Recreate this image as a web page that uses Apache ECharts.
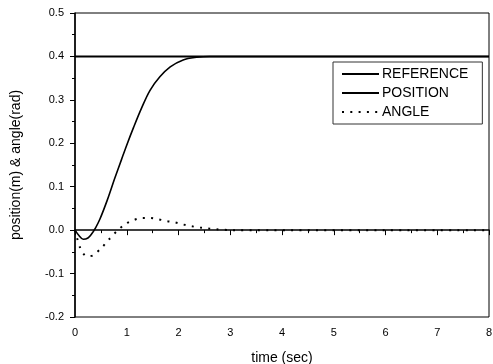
<!DOCTYPE html>
<html>
<head>
<meta charset="utf-8">
<script src="https://cdn.jsdelivr.net/npm/echarts@6/dist/echarts.min.js"></script>
<style>
  html, body { margin: 0; padding: 0; background: #fff; }
  #chart { width: 493px; height: 364px; }
</style>
</head>
<body>
<div id="chart"></div>
<script>
// values
const referenceTime = [0, 8];
const referenceValue = [0.4, 0.4];

const positionTime = [0, 0.08, 0.16, 0.25, 0.32, 0.4, 0.48, 0.62, 0.77, 0.9, 1.01, 1.13, 1.29, 1.45, 1.64, 1.84, 2.09, 2.35, 2.6, 8];
const positionValue = [0, -0.013, -0.021, -0.018, -0.009, 0.006, 0.025, 0.068, 0.12, 0.163, 0.199, 0.236, 0.282, 0.322, 0.353, 0.376, 0.392, 0.398, 0.4, 0.4];

const angleTime = [0, 0.1, 0.19, 0.27, 0.35, 0.52, 0.66, 0.81, 0.97, 1.13, 1.29, 1.45, 1.61, 1.77, 1.93, 2.09, 2.25, 2.42, 2.57, 2.74, 3.05, 8];
const angleValue = [0, -0.041, -0.058, -0.06, -0.058, -0.04, -0.021, -0.002, 0.014, 0.023, 0.028, 0.028, 0.025, 0.021, 0.018, 0.013, 0.009, 0.006, 0.004, 0.002, 0, 0];

const seriesNames = ["REFERENCE", "POSITION", "ANGLE"];

const zip = (xs, ys) => xs.map((x, i) => [x, ys[i]]);

const chart = echarts.init(document.getElementById("chart"));
const font = "'Liberation Sans', Arial, sans-serif";

chart.setOption({
  animation: false,
  backgroundColor: "#fff",
  grid: {
    left: 75, right: 4, top: 13, bottom: 47,
    containLabel: false,
    outerBoundsMode: "none",
    show: true, borderColor: "#000", borderWidth: 1,
  },
  legend: {
    orient: "vertical",
    left: 333, top: 62,
    data: seriesNames,
    itemWidth: 37, itemHeight: 14, itemGap: 5,
    padding: [5, 14, 5, 8],
    borderColor: "#333", borderWidth: 1,
    itemStyle: { opacity: 0 },
    textStyle: { color: "#000", fontSize: 14, fontFamily: font, padding: [0, 0, 0, -2] },
  },
  xAxis: {
    type: "value",
    min: 0, max: 8, interval: 1,
    name: "time (sec)",
    nameLocation: "middle",
    nameGap: 34,
    nameTextStyle: { color: "#000", fontSize: 14, fontFamily: font },
    axisLine: { lineStyle: { color: "#000", width: 1.5 } },
    axisTick: { inside: false, length: 5, lineStyle: { color: "#000" } },
    minorTick: { show: true, splitNumber: 2, length: 3, lineStyle: { color: "#000" } },
    axisLabel: { color: "#000", fontSize: 11, fontFamily: font, margin: 10 },
    splitLine: { show: false },
  },
  yAxis: {
    type: "value",
    min: -0.2, max: 0.5, interval: 0.1,
    name: "position(m) & angle(rad)",
    nameLocation: "middle",
    nameGap: 52,
    nameTextStyle: { color: "#000", fontSize: 14, fontFamily: font },
    axisLine: { lineStyle: { color: "#000", width: 1.5 } },
    axisTick: { inside: false, length: 5, lineStyle: { color: "#000" } },
    minorTick: { show: true, splitNumber: 2, length: 3, lineStyle: { color: "#000" } },
    axisLabel: {
      color: "#000", fontSize: 11, fontFamily: font, margin: 11,
      formatter: (v) => v.toFixed(1),
    },
    splitLine: { show: false },
  },
  series: [
    {
      name: seriesNames[0],
      type: "line",
      data: zip(referenceTime, referenceValue),
      symbol: "none",
      lineStyle: { color: "#000", width: 2 },
    },
    {
      name: seriesNames[1],
      type: "line",
      data: zip(positionTime, positionValue),
      symbol: "none",
      smooth: 0.35,
      lineStyle: { color: "#000", width: 1.6 },
    },
    {
      name: seriesNames[2],
      type: "line",
      data: zip(angleTime, angleValue),
      symbol: "none",
      smooth: 0.3,
      lineStyle: { color: "#000", width: 2, type: [2, 6.3] },
    },
  ],
});
</script>
</body>
</html>
